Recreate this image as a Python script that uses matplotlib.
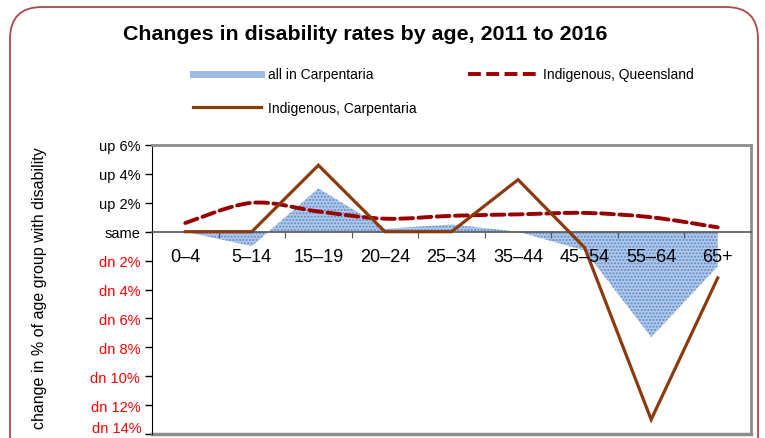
import numpy as np
import matplotlib
matplotlib.use('Agg')
import matplotlib.pyplot as plt
from matplotlib.path import Path
from matplotlib.patches import PathPatch, FancyBboxPatch
from matplotlib.lines import Line2D
from matplotlib.transforms import IdentityTransform

# data (percentage-point change 2011 -> 2016)
age_groups = ['0–4', '5–14', '15–19', '20–24', '25–34', '35–44', '45–54', '55–64', '65+']
all_carpentaria = [0.0, -1.0, 3.0, 0.2, 0.5, 0.0, -1.3, -7.3, -2.4]
indig_qld = [0.6, 2.0, 1.4, 0.9, 1.1, 1.2, 1.3, 1.0, 0.3]
indig_carpentaria = [0.0, 0.0, 4.6, 0.0, 0.0, 3.6, -1.1, -13.0, -3.2]
ytick_vals = [6, 4, 2, 0, -2, -4, -6, -8, -10, -12, -14]
ytick_labels = ['up 6%', 'up 4%', 'up 2%', 'same', 'dn 2%', 'dn 4%', 'dn 6%',
                'dn 8%', 'dn 10%', 'dn 12%', 'dn 14%']

plt.rcParams['font.family'] = ['Liberation Sans', 'DejaVu Sans']
plt.rcParams['hatch.linewidth'] = 1.0

fig = plt.figure(figsize=(7.65, 4.39), dpi=100)
ax = fig.add_axes([152 / 765, 4 / 439, 599 / 765, 289 / 439])
x = np.arange(len(age_groups))

# dotted blue area for all people in Carpentaria
ax.fill_between(x, all_carpentaria, 0, facecolor='#b2c8e8', edgecolor='#5d8cce',
                hatch='.....', linewidth=0, zorder=1)

# smoothed dashed line (Excel-style smoothing via cubic bezier segments)
pts = np.column_stack([x, indig_qld]).astype(float)
ext = np.vstack([pts[0], pts, pts[-1]])
verts = [tuple(pts[0])]
codes = [Path.MOVETO]
for k in range(len(pts) - 1):
    p0, p1, p2, p3 = ext[k], ext[k + 1], ext[k + 2], ext[k + 3]
    c1 = p1 + (p2 - p0) / 6
    c2 = p2 - (p3 - p1) / 6
    verts += [tuple(c1), tuple(c2), tuple(p2)]
    codes += [Path.CURVE4] * 3
qld = PathPatch(Path(verts, codes), fill=False, edgecolor='#990000', lw=2.8,
                linestyle=(0, (3.3, 1.4)), capstyle='round', zorder=3)
ax.add_patch(qld)

ax.plot(x, indig_carpentaria, color='#8B3A0E', lw=2.3, zorder=4, solid_joinstyle='miter')

ax.set_xlim(-0.5, len(age_groups) - 0.5)
ax.set_ylim(-14, 6)

# zero line carries the category ticks
ax.spines['bottom'].set_position(('data', 0))
ax.spines['bottom'].set_color('#555555')
ax.spines['bottom'].set_linewidth(1.2)
ax.set_xticks(np.arange(0.5, len(age_groups), 1.0))
ax.set_xticklabels([])
ax.tick_params(axis='x', direction='out', length=4, color='#555555')
for xi, lab in zip(x, age_groups):
    ax.annotate(lab, (xi, 0), xytext=(0, -25), textcoords='offset pixels',
                ha='center', va='center', fontsize=13, zorder=5)

ax.set_yticks(ytick_vals)
# lowest label is drawn by hand, nudged up so it stays inside the picture
ax.set_yticklabels(ytick_labels[:-1] + [''], fontsize=10.5)
for lab, v in zip(ax.get_yticklabels(), ytick_vals):
    lab.set_color('red' if v < 0 else 'black')
ax.annotate(ytick_labels[-1], (0, ytick_vals[-1]), xycoords=('axes fraction', 'data'),
            xytext=(-10, 6), textcoords='offset pixels', ha='right', va='center',
            color='red', fontsize=10.5, annotation_clip=False)
ax.tick_params(axis='y', direction='out', length=5, width=1)
ax.spines['left'].set_color('black')
for s in ['top', 'right']:
    ax.spines[s].set_color('#8c8c8c')
    ax.spines[s].set_linewidth(2)
ax.axhline(-14, color='#8c8c8c', lw=2.5, clip_on=False)

fig.text(40 / 765, 1 - 288 / 439, 'change in % of age group with disability', rotation=90,
         ha='center', va='center', fontsize=11.5)

fig.text(365 / 765, 1 - 35 / 439, 'Changes in disability rates by age, 2011 to 2016',
         ha='center', va='center', fontsize=15.4, fontweight='bold')

handles = [Line2D([], [], color='#9fbbe4', lw=5),
           Line2D([], [], color='#8B3A0E', lw=2.3),
           Line2D([], [], color='#990000', lw=2.8, linestyle=(0, (3.3, 1.4)))]
labels = ['all in Carpentaria', 'Indigenous, Carpentaria', 'Indigenous, Queensland']
fig.legend(handles, labels, ncol=2, loc='upper left', bbox_to_anchor=(180 / 765, 1 - 56 / 439),
           frameon=False, fontsize=10, handlelength=4.9, columnspacing=3.7,
           labelspacing=1.4, handletextpad=0.5)

box = FancyBboxPatch((10, -60), 748, 431 + 60, boxstyle='round,pad=0,rounding_size=32',
                     transform=IdentityTransform(), facecolor='none', edgecolor='#b04848',
                     lw=1.3, zorder=0)
fig.patches.append(box)

fig.savefig('out.png', dpi=100)
